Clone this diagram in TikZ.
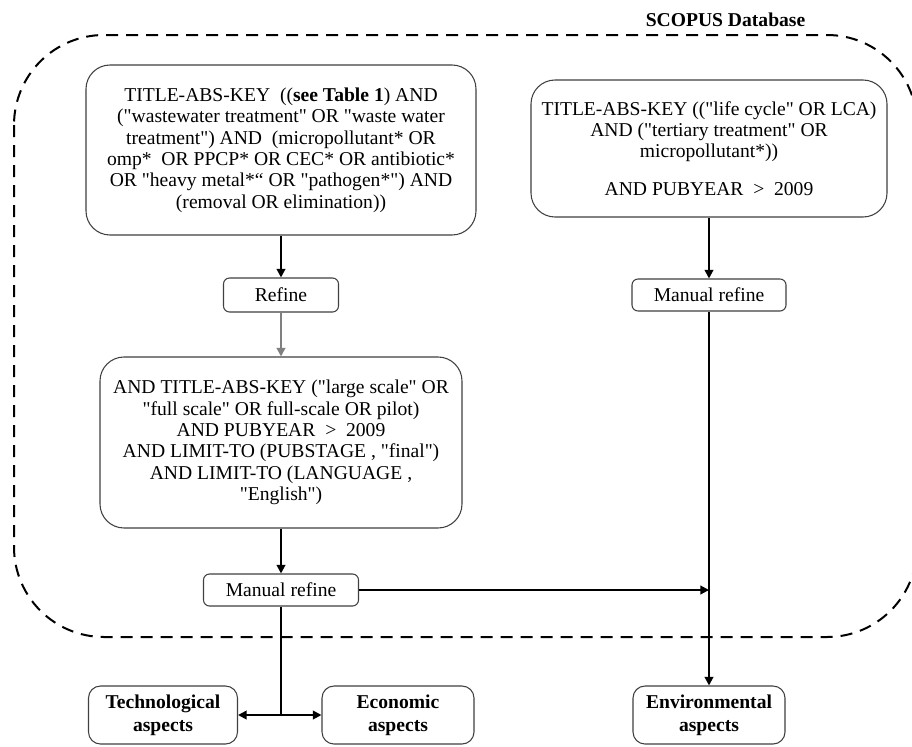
\documentclass[tikz,border=0pt]{standalone}
\usepackage{fontspec}
\newfontfamily\tnr{Liberation Serif}
\usetikzlibrary{arrows.meta,calc}
\begin{document}
\begin{tikzpicture}[x=0.75pt,y=-0.75pt,
  every node/.style={font=\tnr\fontsize{14.7}{16}\selectfont, text=black},
  bigbox/.style={draw=black!75, line width=0.8pt, rounded corners=18pt, align=center, inner sep=0pt},
  smallbox/.style={draw=black!75, line width=0.8pt, rounded corners=4.5pt, align=center, inner sep=0pt},
  aspectbox/.style={draw=black!75, line width=0.8pt, rounded corners=9pt, align=center, inner sep=0pt,
    font=\tnr\fontsize{14.7}{17}\selectfont\bfseries, minimum width=113pt, minimum height=43.5pt},
  conn/.style={line width=1.5pt, draw=black},
  arr/.style={conn, -{Triangle[length=6.5pt,width=6.5pt]}},
  dbl/.style={conn, {Triangle[length=6.5pt,width=6.5pt]}-{Triangle[length=6.5pt,width=6.5pt]}},
  border/.style={line width=1.5pt, dash pattern=on 9pt off 6pt, rounded corners=67.5pt}
]
\useasboundingbox (0,0) rectangle (912,746);
\fill[white] (0,0) rectangle (912,746);

% database border
\draw[border] (14,35) rectangle (917,637);
\node[font=\tnr\fontsize{14.7}{15}\selectfont\bfseries, anchor=east] (scopus) at (810,20) {SCOPUS Database};

% left column
\node[bigbox, minimum width=292.5pt, minimum height=127.5pt] (q1) at (281,150)
 {TITLE-ABS-KEY \ ((\textbf{see Table 1}) AND\\
  ("wastewater treatment" OR "waste water\\
  treatment") AND \ (micropollutant* OR\\
  omp* \ OR PPCP* OR CEC* OR antibiotic*\\
  OR "heavy metal*“ OR "pathogen*") AND\\
  (removal OR elimination))};

\node[smallbox, minimum width=86.25pt, minimum height=25.5pt] (ref) at (281,295) {Refine};

\node[bigbox, minimum width=271.5pt, minimum height=128.25pt] (q3) at (281,442.5)
 {AND TITLE-ABS-KEY ("large scale" OR\\
  "full scale" OR full-scale OR pilot)\\
  AND PUBYEAR \ > \ 2009\\
  AND LIMIT-TO (PUBSTAGE , "final")\\
  AND LIMIT-TO (LANGUAGE ,\\
  "English")};

\node[smallbox, minimum width=116.25pt, minimum height=24pt] (mr1) at (281,590) {Manual refine};

% right column
\node[bigbox, minimum width=267pt, minimum height=102.75pt] (q2) at (709,148.5)
 {TITLE-ABS-KEY (("life cycle" OR LCA)\\
  AND ("tertiary treatment" OR\\
  micropollutant*))\\[12pt]
  AND PUBYEAR \ > \ 2009};

\node[smallbox, minimum width=115.5pt, minimum height=24pt] (mr2) at (709,295) {Manual refine};

% aspects
\node[aspectbox, minimum width=111.75pt] (tech) at (163,715) {Technological\\aspects};
\node[aspectbox, minimum width=114pt] (econ) at (398,715) {Economic\\aspects};
\node[aspectbox, minimum width=114pt] (env) at (709,715) {Environmental\\aspects};

% connectors
\draw[arr] (q1) -- (ref);
\draw[arr, draw=black!50, fill=black!50] (ref) -- (q3);
\draw[arr] (q3) -- (mr1);
\draw[arr] (q2) -- (mr2);
\draw[arr] (mr2) -- (env);
\coordinate (hit) at (mr1.east -| mr2.south);
\draw[arr] (mr1) -- (hit);
\coordinate (split) at (mr1.south |- tech.east);
\draw[conn] (mr1) -- (split);
\draw[dbl] (tech) -- (econ);
\end{tikzpicture}
\end{document}
